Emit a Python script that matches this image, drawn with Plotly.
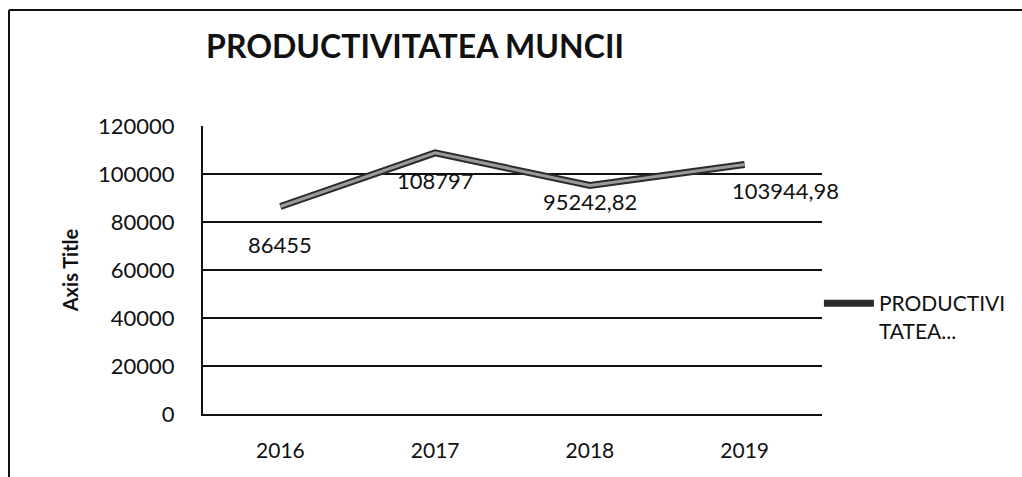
import plotly.graph_objects as go

years = ["2016", "2017", "2018", "2019"]
values = [86455, 108797, 95242.82, 103944.98]
value_labels = ["86455", "108797", "95242,82", "103944,98"]
series_name = "PRODUCTIVI<br>TATEA..."
title_text = "PRODUCTIVITATEA MUNCII"
y_title = "Axis Title"
y_ticks = [0, 20000, 40000, 60000, 80000, 100000, 120000]

W, H = 1022, 477
L, R, T, B = 203, 200, 126, 63
FONT = "Lato"

fig = go.Figure()
# dark outline of the line
fig.add_trace(go.Scatter(x=years, y=values, mode="lines", name=series_name,
                         line=dict(color="#2a2a2a", width=7), showlegend=True))
# light core
fig.add_trace(go.Scatter(x=years, y=values, mode="lines", showlegend=False,
                         line=dict(color="#9a9a9a", width=3), hoverinfo="skip"))

# data labels (per-point offsets, as in the picture)
shifts = [(0, -38), (0, -28), (0, -16), (41, -26)]
for i, (yv, lab, (dx, dy)) in enumerate(zip(values, value_labels, shifts)):
    fig.add_annotation(x=i, y=yv, xref="x", yref="y", text=lab, showarrow=False,
                       xshift=dx, yshift=dy,
                       font=dict(family=FONT, size=22, color="#111"))

def px2x(px):
    return (px - L) / (W - L - R)

def px2y(py):
    return (H - B - py) / (H - T - B)

fig.add_shape(type="line", xref="paper", yref="paper", x0=px2x(9), x1=px2x(1022),
              y0=px2y(10), y1=px2y(10), line=dict(color="#111", width=2))
fig.add_shape(type="line", xref="paper", yref="paper", x0=px2x(9), x1=px2x(9),
              y0=px2y(10), y1=px2y(477), line=dict(color="#111", width=2))

fig.update_layout(
    width=W, height=H,
    margin=dict(l=L, r=R, t=T, b=B, autoexpand=False),
    paper_bgcolor="white", plot_bgcolor="white",
    font=dict(family=FONT, size=21, color="#111"),
    title=dict(text="<b>" + title_text + "</b>", x=px2x(415), xref="paper",
               xanchor="center", y=1 - 47 / H, yanchor="middle",
               font=dict(family=FONT, size=32, color="#111")),
    legend=dict(x=0.995, y=px2y(283), xanchor="left", yanchor="top",
                valign="top",
                font=dict(family=FONT, size=21, color="#111"),
                bgcolor="rgba(0,0,0,0)", tracegroupgap=0, itemwidth=50),
    showlegend=True,
)
fig.update_xaxes(type="category", range=[-0.5, 3.5], showgrid=False,
                 showline=True, linecolor="#111", linewidth=2,
                 ticks="outside", ticklen=17, tickcolor="rgba(0,0,0,0)",
                 tickfont=dict(family=FONT, size=21), fixedrange=True)
fig.update_yaxes(range=[0, 120000], tickvals=y_ticks, tickformat="d", showgrid=True,
                 gridcolor="#111", gridwidth=2, zeroline=False,
                 showline=True, linecolor="#111", linewidth=2,
                 ticks="outside", ticklen=22, tickcolor="rgba(0,0,0,0)",
                 tickfont=dict(family=FONT, size=22),
                 title=dict(text="<b>" + y_title + "</b>", standoff=14,
                            font=dict(family=FONT, size=20)))

fig.write_html("out.html", config={"displayModeBar": False},
               post_script="document.body.style.margin='0';")
